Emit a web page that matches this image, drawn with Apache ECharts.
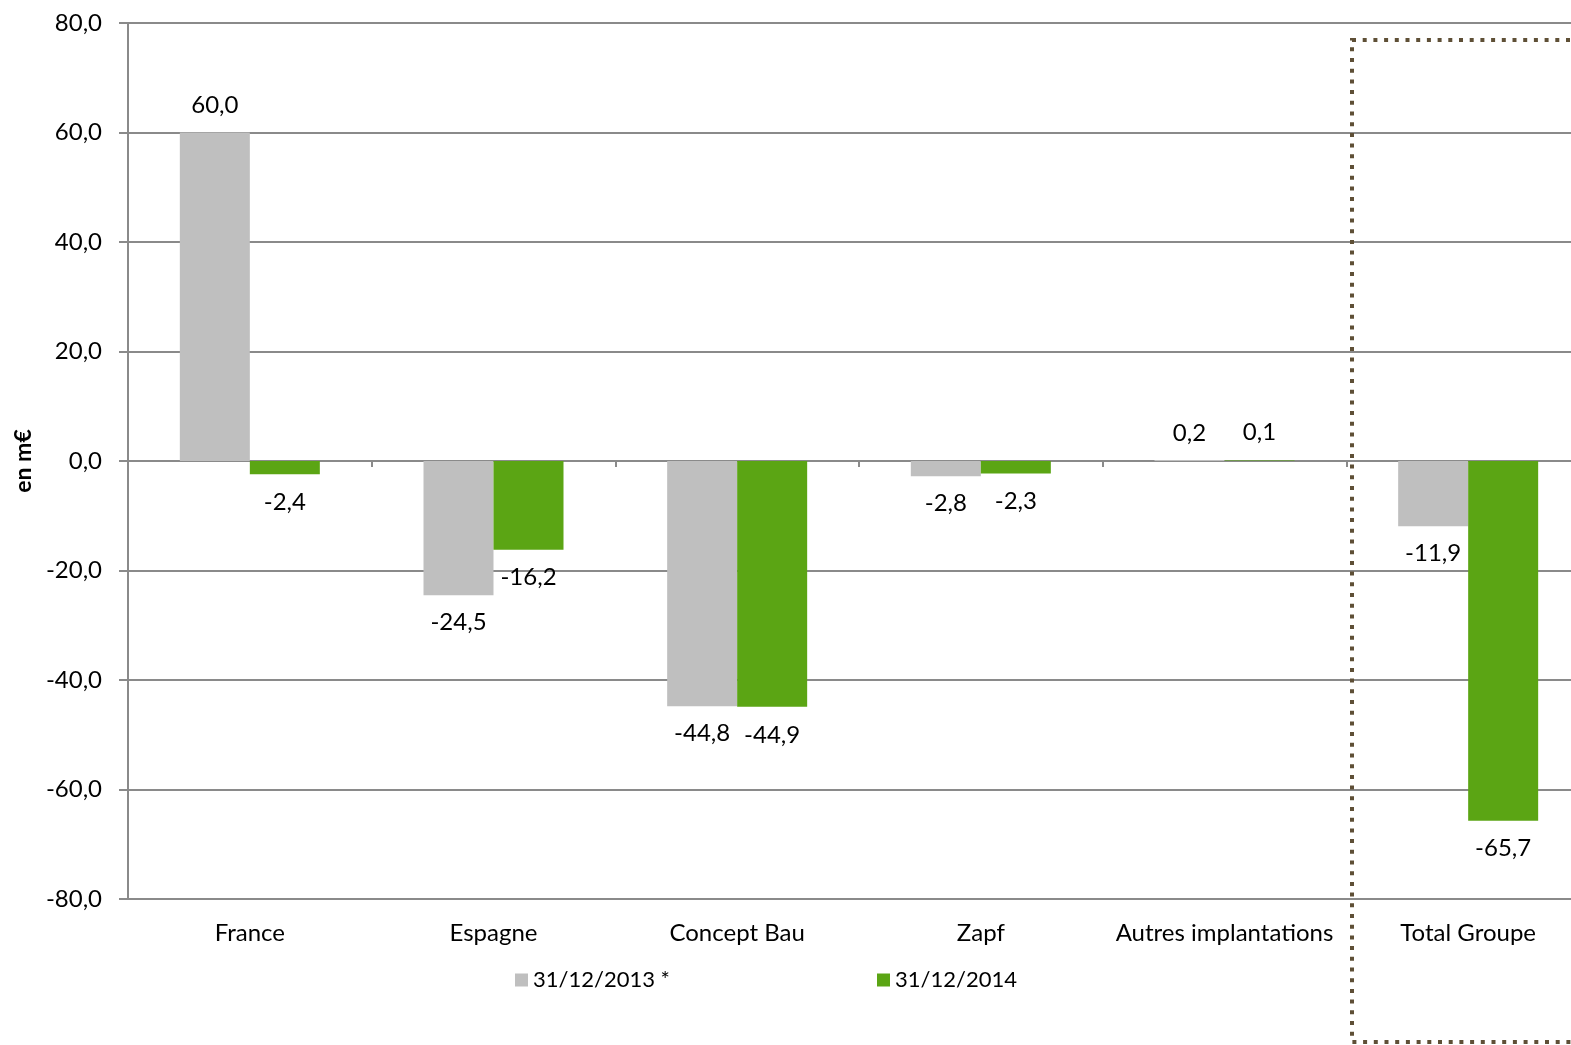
<!DOCTYPE html>
<html>
<head>
<meta charset="utf-8">
<script src="https://cdn.jsdelivr.net/npm/echarts@6/dist/echarts.min.js"></script>
<style>
html,body{margin:0;padding:0;background:#fff;}
#c{width:1571px;height:1045px;}
</style>
</head>
<body>
<div id="c"></div>
<script>
var categories = ['France', 'Espagne', 'Concept Bau', 'Zapf', 'Autres implantations', 'Total Groupe'];
var series2013 = [60.0, -24.5, -44.8, -2.8, 0.2, -11.9];
var series2014 = [-2.4, -16.2, -44.9, -2.3, 0.1, -65.7];
var seriesNames = ['31/12/2013 *', '31/12/2014'];
var yTicks = { min: -80, max: 80, interval: 20 };

var FONT = 'Lato, "Open Sans", sans-serif';
function fmt(v) { return Number(v).toFixed(1).replace('.', ','); }
function toData(arr) {
  return arr.map(function (v) {
    return { value: v, label: { position: v >= 0 ? 'top' : 'bottom' } };
  });
}

var chart = echarts.init(document.getElementById('c'), null, { renderer: 'canvas' });
chart.setOption({
  backgroundColor: '#ffffff',
  animation: false,
  textStyle: { fontFamily: FONT },
  grid: { left: 128, top: 23, width: 1462, height: 876, containLabel: false, outerBoundsMode: 'none' },
  legend: [
    { data: [seriesNames[0]], left: 510, top: 964, itemWidth: 13, itemHeight: 13, itemGap: 6,
      icon: 'rect', textStyle: { fontFamily: FONT, fontSize: 22, color: '#000' } },
    { data: [seriesNames[1]], left: 872, top: 964, itemWidth: 13, itemHeight: 13, itemGap: 6,
      icon: 'rect', textStyle: { fontFamily: FONT, fontSize: 22, color: '#000' } }
  ],
  xAxis: {
    type: 'category',
    data: categories,
    axisLine: { show: true, onZero: true, lineStyle: { color: '#8a8a8a', width: 2 } },
    axisTick: { show: true, alignWithLabel: false, length: 6, inside: false, lineStyle: { color: '#8a8a8a', width: 2 } },
    axisLabel: { fontFamily: FONT, fontSize: 24, color: '#000', margin: 22, interval: 0 },
    position: 'bottom'
  },
  yAxis: {
    type: 'value',
    min: yTicks.min, max: yTicks.max, interval: yTicks.interval,
    name: 'en m€',
    nameLocation: 'middle',
    nameGap: 91,
    nameRotate: 90,
    nameTextStyle: { fontFamily: FONT, fontSize: 23, fontWeight: 'bold', color: '#000' },
    axisLine: { show: true, lineStyle: { color: '#8a8a8a', width: 2 } },
    axisTick: { show: true, length: 9, lineStyle: { color: '#8a8a8a', width: 2 } },
    axisLabel: { formatter: fmt, fontFamily: FONT, fontSize: 24, color: '#000', margin: 26 },
    splitLine: { show: true, lineStyle: { color: '#8a8a8a', width: 2 } }
  },
  series: [
    {
      name: seriesNames[0], type: 'bar', data: toData(series2013),
      barWidth: 70, barGap: '0%',
      itemStyle: { color: '#bfbfbf' },
      label: { show: true, formatter: function (p) { return fmt(p.value); },
        fontFamily: FONT, fontSize: 24, color: '#000', distance: 15 }
    },
    {
      name: seriesNames[1], type: 'bar', data: toData(series2014),
      barWidth: 70, barGap: '0%',
      itemStyle: { color: '#5ba514' },
      label: { show: true, formatter: function (p) { return fmt(p.value); },
        fontFamily: FONT, fontSize: 24, color: '#000', distance: 16 }
    }
  ],
  graphic: [
    { type: 'rect', z: 100, silent: true,
      shape: { x: 1352, y: 40, width: 400, height: 1002 },
      style: { fill: null, stroke: '#5e4f36', lineWidth: 4, lineDash: [4, 6.7] } }
  ]
});
</script>
</body>
</html>
